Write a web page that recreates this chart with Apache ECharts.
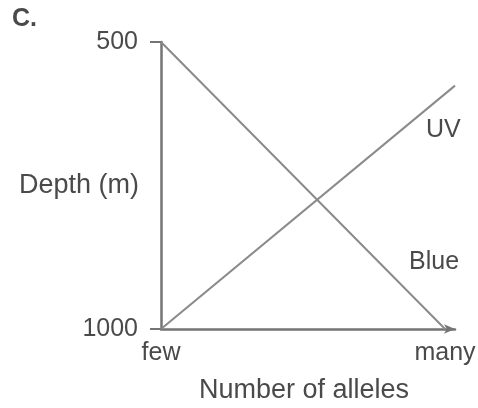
<!DOCTYPE html>
<html><head><meta charset="utf-8">
<script src="https://cdn.jsdelivr.net/npm/echarts@6/dist/echarts.min.js"></script>
<style>html,body{margin:0;padding:0;background:#fff}#c{width:478px;height:408px}</style>
</head><body><div id="c"></div>
<script>
const xTickValues = [0, 1];
const xTickLabels = ['few', 'many'];
const yTickValues = [500, 1000];
const blueSeries = [[0, 500], [1, 1000]];
const uvSeries = [[0, 1000], [1.035, 576]];
const seriesNames = ['Blue', 'UV'];

const FONT = 'Liberation Sans';
const TXT = '#4a4a4a';
const chart = echarts.init(document.getElementById('c'), null, {renderer: 'canvas'});
chart.setOption({
  animation: false,
  backgroundColor: '#fff',
  grid: {left: 161, right: 23, top: 42, bottom: 79, containLabel: false, outerBoundsMode: 'none'},
  xAxis: {
    type: 'value', min: 0, max: 1.035,
    name: 'Number of alleles', nameLocation: 'middle', nameGap: 48, nameMoveOverlap: false,
    nameTextStyle: {fontFamily: FONT, fontSize: 27, color: TXT, padding: [0, 8, 0, 0]},
    splitLine: {show: false},
    axisLine: {show: true, lineStyle: {color: '#747474', width: 2.5}, symbol: ['none', 'arrow'], symbolSize: [7, 11]},
    axisTick: {show: false},
    axisLabel: {
      customValues: xTickValues,
      formatter: v => xTickLabels[xTickValues.indexOf(v)] || '',
      fontFamily: FONT, fontSize: 25, color: TXT, margin: 12
    }
  },
  yAxis: {
    type: 'value', min: 500, max: 1000, interval: 500, inverse: true,
    name: 'Depth (m)', nameLocation: 'middle', nameRotate: 0, nameGap: 22, nameMoveOverlap: false,
    nameTextStyle: {fontFamily: FONT, fontSize: 27, color: TXT, align: 'right'},
    splitLine: {show: false},
    axisLine: {show: true, lineStyle: {color: '#747474', width: 2.5}},
    axisTick: {show: true, length: 11, lineStyle: {color: '#747474', width: 2}},
    axisLabel: {
      customValues: yTickValues,
      formatter: v => String(v),
      fontFamily: FONT, fontSize: 25, color: TXT, margin: 23
    }
  },
  graphic: [
    {type: 'text', left: 12, top: 7, style: {text: 'C.', font: 'bold 25px "Liberation Sans"', fill: TXT}},
    {type: 'text', left: 426, top: 118, style: {text: seriesNames[1], font: '25px "Liberation Sans"', fill: TXT}},
    {type: 'text', left: 409, top: 250, style: {text: seriesNames[0], font: '25px "Liberation Sans"', fill: TXT}}
  ],
  series: [
    {name: seriesNames[0], type: 'line', data: blueSeries, symbol: 'none', lineStyle: {color: '#8a8a8a', width: 2}},
    {name: seriesNames[1], type: 'line', data: uvSeries, symbol: 'none', lineStyle: {color: '#8a8a8a', width: 2}}
  ]
});
</script></body></html>
